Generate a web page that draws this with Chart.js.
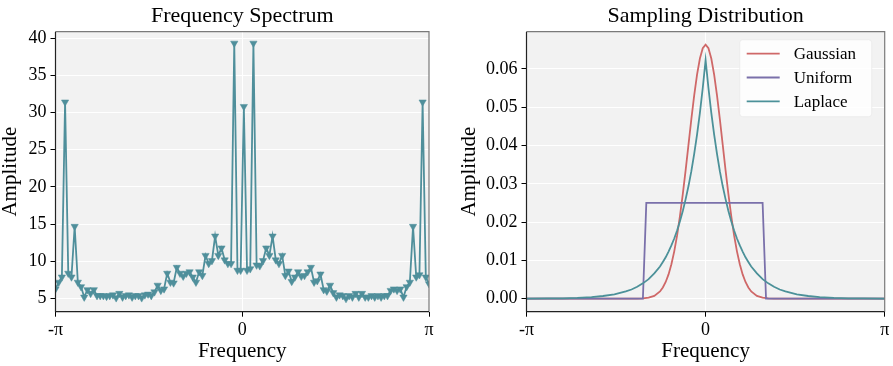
<!DOCTYPE html>
<html><head><meta charset="utf-8">
<script src="https://cdn.jsdelivr.net/npm/chart.js@4.4.1/dist/chart.umd.min.js"></script>
<style>
html,body{margin:0;padding:0;background:#fff;width:893px;height:366px;overflow:hidden}
#c1{position:absolute;left:0;top:0}
#c2{position:absolute;left:446px;top:0}
</style></head><body>
<canvas id="c1" width="446" height="366"></canvas>
<canvas id="c2" width="447" height="366"></canvas>
<script>
// ---- Left panel: Frequency Spectrum ----
const spectrumAmplitude = [
 6.3, 7.2, 7.9, 31.4, 8.4, 7.9, 14.7, 7.2, 6.6, 5.2,
 6.2, 5.7, 6.2, 5.4, 5.4, 5.4, 5.3, 5.4, 5.5, 5.1,
 5.7, 5.2, 5.4, 5.5, 5.2, 5.4, 5.4, 5.1, 5.5, 5.6,
 5.4, 5.9, 6.8, 6.1, 6.3, 8.4, 7.2, 7.1, 9.2, 8.4,
 8.0, 8.4, 8.6, 7.9, 7.2, 8.6, 8.1, 10.8, 9.7, 10.1,
 13.4, 10.8, 11.8, 10.2, 9.7, 9.7, 39.3, 8.8, 8.8, 30.8,
 8.8, 9.0, 39.3, 9.5, 9.4, 10.1, 11.8, 10.8, 13.4, 10.2,
 9.7, 10.8, 8.1, 8.7, 7.3, 7.9, 8.6, 8.0, 8.1, 8.6,
 9.2, 7.2, 7.4, 8.3, 6.2, 6.0, 6.8, 5.8, 5.2, 5.5,
 5.4, 5.0, 5.4, 5.2, 5.7, 5.2, 5.7, 5.2, 5.2, 5.4,
 5.2, 5.4, 5.2, 5.4, 5.4, 6.1, 6.3, 6.1, 6.3, 5.2,
 6.6, 7.2, 14.7, 7.9, 8.2, 31.4, 7.9, 7.0
];
const spectrumYTicks = [5, 10, 15, 20, 25, 30, 35, 40];
const piTickLabels = ['-π', '0', 'π'];

// ---- Right panel: Sampling Distribution ----
const distX = [
 -3.14, -2.75, -2.5, -2.25, -2.0, -1.8, -1.6, -1.4, -1.3, -1.2, -1.1, -1.0, -0.9, -0.8, -0.75,
 -0.7, -0.65, -0.6, -0.55, -0.5, -0.45, -0.4, -0.35, -0.3, -0.25, -0.2, -0.15, -0.1, -0.05,
 0,
 0.05, 0.1, 0.15, 0.2, 0.25, 0.3, 0.35, 0.4, 0.45, 0.5, 0.55, 0.6, 0.65, 0.7,
 0.75, 0.8, 0.9, 1.0, 1.1, 1.2, 1.3, 1.4, 1.6, 1.8, 2.0, 2.25, 2.5, 2.75, 3.14
];
const gaussian = [
 0, 0, 0, 0, 0, 0, 0, 0, 0, 0.00002, 0.00008, 0.00026, 0.00074, 0.00189, 0.00291,
 0.00436, 0.00634, 0.00897, 0.01235, 0.0165, 0.02153, 0.0273, 0.03357, 0.0402, 0.04685, 0.0531, 0.05851, 0.0627, 0.06539,
 0.0663,
 0.06539, 0.0627, 0.05851, 0.0531, 0.04685, 0.0402, 0.03357, 0.0273, 0.02153, 0.0165, 0.01235, 0.00897, 0.00634, 0.00436,
 0.00291, 0.00189, 0.00074, 0.00026, 0.00008, 0.00002, 0, 0, 0, 0, 0, 0, 0, 0, 0
];
const laplace = [
 0.00002, 0.00006, 0.0001, 0.0002, 0.0004, 0.0007, 0.0011, 0.0019, 0.0024, 0.0031, 0.0040, 0.0051, 0.0066, 0.0084, 0.0096,
 0.0108, 0.0123, 0.0139, 0.0157, 0.0178, 0.0202, 0.0229, 0.0260, 0.0294, 0.0333, 0.0378, 0.0428, 0.0485, 0.0550,
 0.0623,
 0.0550, 0.0485, 0.0428, 0.0378, 0.0333, 0.0294, 0.0260, 0.0229, 0.0202, 0.0178, 0.0157, 0.0139, 0.0123, 0.0108,
 0.0096, 0.0084, 0.0066, 0.0051, 0.0040, 0.0031, 0.0024, 0.0019, 0.0011, 0.0007, 0.0004, 0.0002, 0.0001, 0.00006, 0.00002
];
const uniformX = [-3.14, -1.10, -1.04, 1.00, 1.06, 3.14];
const uniformY = [0, 0, 0.025, 0.025, 0, 0];
const distYTicks = [0, 0.01, 0.02, 0.03, 0.04, 0.05, 0.06];

const FONT = 'Liberation Serif, Times New Roman, serif';

const plotFrame = {
  id: 'plotFrame',
  beforeDraw(chart) {
    const {ctx, chartArea: a} = chart;
    ctx.save();
    ctx.fillStyle = '#f2f2f2';
    ctx.fillRect(a.left, a.top, a.right - a.left, a.bottom - a.top);
    ctx.restore();
  },
  afterDatasetsDraw(chart) {
    const {ctx, chartArea: a} = chart;
    ctx.save();
    ctx.lineWidth = 1.2;
    ctx.strokeStyle = '#7a7a7a';
    ctx.beginPath();
    ctx.moveTo(a.left, a.top); ctx.lineTo(a.right, a.top); ctx.lineTo(a.right, a.bottom);
    ctx.stroke();
    ctx.strokeStyle = '#222';
    ctx.beginPath();
    ctx.moveTo(a.left, a.top); ctx.lineTo(a.left, a.bottom); ctx.lineTo(a.right, a.bottom);
    ctx.stroke();
    ctx.restore();
  }
};

const boxLegend = {
  id: 'boxLegend',
  afterDraw(chart, args, opts) {
    if (!opts.display) return;
    const {ctx, chartArea: a} = chart;
    const w = 132, h = 77;
    const x0 = a.right - 13 - w, y0 = a.top + 8;
    ctx.save();
    ctx.fillStyle = 'rgba(255,255,255,0.8)';
    ctx.strokeStyle = 'rgba(235,235,235,0.9)';
    ctx.lineWidth = 1;
    ctx.beginPath();
    ctx.roundRect(x0, y0, w, h, 3);
    ctx.fill(); ctx.stroke();
    ctx.font = '17px ' + FONT;
    ctx.textBaseline = 'middle';
    ctx.fillStyle = '#000';
    chart.data.datasets.forEach((ds, i) => {
      const y = y0 + 14 + i * 23.8;
      ctx.strokeStyle = ds.borderColor;
      ctx.lineWidth = 1.8;
      ctx.beginPath(); ctx.moveTo(x0 + 7, y); ctx.lineTo(x0 + 40, y); ctx.stroke();
      ctx.fillText(ds.label, x0 + 54, y + 1);
    });
    ctx.restore();
  }
};

function tickFont() { return {family: FONT, size: 18}; }

function xAxis(min, max, tickVals, labels) {
  return {
    type: 'linear', min, max,
    afterBuildTicks: s => { s.ticks = tickVals.map(v => ({value: v})); },
    ticks: {callback: (v, i) => labels[i], font: tickFont(), color: '#000', padding: 3, maxRotation: 0, autoSkip: false},
    grid: {color: '#ffffff', lineWidth: 1, tickLength: 5, tickColor: '#000', tickWidth: 1},
    border: {display: false},
    title: {display: true, text: 'Frequency', color: '#000', font: {family: FONT, size: 21, lineHeight: 1.2}, padding: {top: 0, bottom: 2}},
    afterFit: s => { s.height = 54.3; }
  };
}
function yAxis(min, max, tickVals, fmt, width, titlePad) {
  return {
    type: 'linear', min, max,
    afterBuildTicks: s => { s.ticks = tickVals.map(v => ({value: v})); },
    ticks: {callback: fmt, font: tickFont(), color: '#000', padding: 4},
    grid: {color: '#ffffff', lineWidth: 1, tickLength: 5, tickColor: '#000', tickWidth: 1},
    border: {display: false},
    title: {display: true, text: 'Amplitude', color: '#000', font: {family: FONT, size: 21, lineHeight: 0.8}, padding: {top: titlePad, bottom: 0}},
    afterFit: s => { s.width = width; }
  };
}
function titleOpts(text) {
  return {display: true, fullSize: false, text, color: '#000', font: {family: FONT, size: 22, weight: 'normal', lineHeight: 1.2}, padding: {top: 3, bottom: 2.3}};
}

const lastIdx = spectrumAmplitude.length - 1;
new Chart(document.getElementById('c1'), {
  type: 'line',
  data: {
    datasets: [{
      label: 'Spectrum',
      data: spectrumAmplitude.map((v, i) => ({x: i, y: v})),
      borderColor: '#4f8f9b', backgroundColor: '#4f8f9b',
      borderWidth: 1.8, tension: 0,
      pointStyle: 'triangle', pointRotation: 180, pointRadius: 4.2,
      pointBackgroundColor: '#4f8f9b', pointBorderColor: '#4f8f9b', pointBorderWidth: 0.5
    }]
  },
  options: {
    responsive: false, animation: false, devicePixelRatio: 1,
    layout: {padding: {left: 0, right: 17, top: 0, bottom: 0}},
    scales: {
      x: xAxis(0, lastIdx, [0, lastIdx / 2, lastIdx], piTickLabels),
      y: yAxis(3.25, 40.85, spectrumYTicks, v => String(v), 55.5, 2)
    },
    plugins: {legend: {display: false}, tooltip: {enabled: false}, title: titleOpts('Frequency Spectrum'), boxLegend: {display: false}}
  },
  plugins: [plotFrame, boxLegend]
});

new Chart(document.getElementById('c2'), {
  type: 'line',
  data: {
    datasets: [
      {label: 'Gaussian', data: distX.map((x, i) => ({x, y: gaussian[i]})), borderColor: '#cf6868', borderWidth: 1.8, pointRadius: 0, tension: 0, order: 2},
      {label: 'Uniform', data: uniformX.map((x, i) => ({x, y: uniformY[i]})), borderColor: '#7a70aa', borderWidth: 1.8, pointRadius: 0, tension: 0, order: 1},
      {label: 'Laplace', data: distX.map((x, i) => ({x, y: laplace[i]})), borderColor: '#4c9199', borderWidth: 1.8, pointRadius: 0, tension: 0, order: 0}
    ]
  },
  options: {
    responsive: false, animation: false, devicePixelRatio: 1,
    layout: {padding: {left: 0, right: 8.3, top: 0, bottom: 0}},
    scales: {
      x: xAxis(-Math.PI, Math.PI, [-Math.PI, 0, Math.PI], piTickLabels),
      y: yAxis(-0.0034, 0.0697, distYTicks, v => v.toFixed(2), 80.5, 15)
    },
    plugins: {legend: {display: false}, tooltip: {enabled: false}, title: titleOpts('Sampling Distribution'), boxLegend: {display: true}}
  },
  plugins: [plotFrame, boxLegend]
});
</script>
</body></html>
